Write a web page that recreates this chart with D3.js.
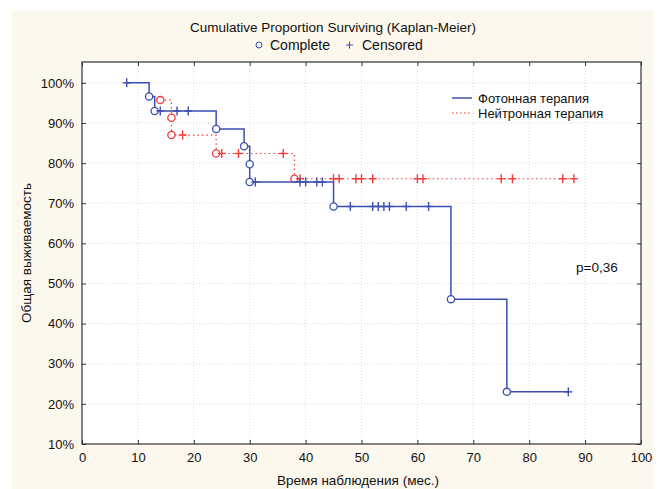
<!DOCTYPE html>
<html lang="ru">
<head>
	<meta charset="UTF-8">
	<title>Kaplan-Meier</title>
	<style>
		body { margin: 0; background: #fff; }
		text { font-family: "Liberation Sans", Arial, sans-serif; fill: #111; }
	</style>
</head>
<body>
	<svg id="container" width="659" height="489"></svg>
<script src="https://cdn.jsdelivr.net/npm/d3@7"></script>
<script>
	// photon therapy (blue, solid)
	let photonTime = [8, 12, 13, 14, 17, 19, 24, 29, 30, 30, 31, 39, 40, 42, 43, 45, 48, 52, 53, 54, 55, 58, 62, 66, 76, 87];
	let photonSurv = [100, 96.6, 93.0, 93.0, 93.0, 93.0, 88.5, 84.2, 79.7, 75.3, 75.3, 75.3, 75.3, 75.3, 75.3, 69.2, 69.2, 69.2, 69.2, 69.2, 69.2, 69.2, 69.2, 46.1, 23.0, 23.0];
	let photonCens = [1, 0, 0, 1, 1, 1, 0, 0, 0, 0, 1, 1, 1, 1, 1, 0, 1, 1, 1, 1, 1, 1, 1, 0, 0, 1];

	// neutron therapy (red, dotted)
	let neutronTime = [14, 16, 16, 18, 24, 25, 28, 36, 38, 39, 45, 46, 49, 50, 52, 60, 61, 75, 77, 86, 88];
	let neutronSurv = [95.7, 91.3, 87.0, 87.0, 82.4, 82.4, 82.4, 82.4, 76.1, 76.1, 76.1, 76.1, 76.1, 76.1, 76.1, 76.1, 76.1, 76.1, 76.1, 76.1, 76.1];
	let neutronCens = [0, 0, 0, 1, 0, 1, 1, 1, 0, 1, 1, 1, 1, 1, 1, 1, 1, 1, 1, 1, 1];

	let xTicks = [0, 10, 20, 30, 40, 50, 60, 70, 80, 90, 100];
	let yTicks = [10, 20, 30, 40, 50, 60, 70, 80, 90, 100];
	let seriesNames = ["Фотонная терапия", "Нейтронная терапия"];

	let svg = d3.select("#container");
	let pLeft = 82, pRight = 641, pTop = 62, pBottom = 444;

	let x = d3.scaleLinear().domain([0, 100]).range([pLeft, pRight]);
	let y = d3.scaleLinear().domain([10, 105.2]).range([pBottom, pTop]);

	// background panel
	svg.append("rect").attr("x", 12).attr("y", 10).attr("width", 641).attr("height", 479).attr("fill", "#fdf8ed");
	svg.append("rect").attr("x", pLeft).attr("y", pTop).attr("width", pRight - pLeft).attr("height", pBottom - pTop).attr("fill", "#fff");

	// grid
	let grid = svg.append("g").attr("stroke", "#dcdcdc").attr("stroke-dasharray", "1,2");
	grid.selectAll(".gx").data(xTicks.slice(1, -1)).enter().append("line")
		.attr("x1", d => x(d)).attr("x2", d => x(d)).attr("y1", pTop).attr("y2", pBottom);
	grid.selectAll(".gy").data(yTicks.slice(1)).enter().append("line")
		.attr("x1", pLeft).attr("x2", pRight).attr("y1", d => y(d)).attr("y2", d => y(d));

	// axes
	let fmt = d => d + "%";
	svg.append("g").attr("transform", `translate(0,${pBottom})`)
		.call(d3.axisBottom(x).tickValues(xTicks).tickSize(-4).tickPadding(9))
		.call(g => g.select(".domain").remove())
		.selectAll("text").style("font-size", "13px");
	svg.append("g").attr("transform", `translate(0,${pTop})`)
		.call(d3.axisTop(x).tickValues(xTicks).tickSize(-4).tickFormat(""))
		.call(g => g.select(".domain").remove());
	svg.append("g").attr("transform", `translate(${pLeft},0)`)
		.call(d3.axisLeft(y).tickValues(yTicks).tickSize(-4).tickPadding(8).tickFormat(fmt))
		.call(g => g.select(".domain").remove())
		.selectAll("text").style("font-size", "13px");
	svg.append("g").attr("transform", `translate(${pRight},0)`)
		.call(d3.axisRight(y).tickValues(yTicks).tickSize(-4).tickFormat(""))
		.call(g => g.select(".domain").remove());
	svg.selectAll(".tick line").attr("stroke", "#333");
	svg.append("rect").attr("x", pLeft).attr("y", pTop).attr("width", pRight - pLeft).attr("height", pBottom - pTop)
		.attr("fill", "none").attr("stroke", "#333").attr("stroke-width", 1.2);

	// clip the "100" label at panel edge like the original
	svg.append("rect").attr("x", 653).attr("y", 0).attr("width", 6).attr("height", 489).attr("fill", "#fff");

	function drawSeries(times, surv, cens, color, dash) {
		let pts = times.map((t, i) => ({t: t, s: surv[i], c: cens[i]}));
		let line = d3.line().x(d => x(d.t)).y(d => y(d.s)).curve(d3.curveStepAfter);
		svg.append("path").datum(pts)
			.attr("d", line).attr("fill", "none").attr("stroke", color)
			.attr("stroke-width", dash ? 1.2 : 1.5).attr("stroke-dasharray", dash);
		svg.selectAll(null).data(pts.filter(d => !d.c)).enter().append("circle")
			.attr("cx", d => x(d.t)).attr("cy", d => y(d.s)).attr("r", 3.6)
			.attr("fill", "#fff").attr("stroke", color).attr("stroke-width", 1.3);
		let plus = svg.selectAll(null).data(pts.filter(d => d.c)).enter().append("g")
			.attr("transform", d => `translate(${x(d.t)},${y(d.s)})`)
			.attr("stroke", color).attr("stroke-width", 1.4);
		plus.append("line").attr("x1", -4).attr("x2", 4);
		plus.append("line").attr("y1", -4.5).attr("y2", 4.5);
	}
	drawSeries(neutronTime, neutronSurv, neutronCens, "#f23a3a", "1.5,3");
	drawSeries(photonTime, photonSurv, photonCens, "#3c4fb0", null);

	// titles
	svg.append("text").attr("x", 333).attr("y", 32).attr("text-anchor", "middle").style("font-size", "13.5px")
		.text("Cumulative Proportion Surviving (Kaplan-Meier)");
	svg.append("circle").attr("cx", 259).attr("cy", 45).attr("r", 3).attr("fill", "none").attr("stroke", "#3c4fb0");
	svg.append("text").attr("x", 270).attr("y", 50).style("font-size", "14px").text("Complete");
	svg.append("line").attr("x1", 346).attr("x2", 353).attr("y1", 45).attr("y2", 45).attr("stroke", "#3c4fb0");
	svg.append("line").attr("x1", 349.5).attr("x2", 349.5).attr("y1", 41.5).attr("y2", 48.5).attr("stroke", "#3c4fb0");
	svg.append("text").attr("x", 362).attr("y", 50).style("font-size", "14px").text("Censored");

	svg.append("text").attr("x", 358).attr("y", 485).attr("text-anchor", "middle").style("font-size", "13.5px")
		.text("Время наблюдения (мес.)");
	svg.append("text").attr("transform", "translate(31,253) rotate(-90)").attr("text-anchor", "middle").style("font-size", "13.5px")
		.text("Общая выживаемость");

	// legend
	let leg = svg.append("g");
	leg.append("line").attr("x1", 452).attr("x2", 472).attr("y1", 98).attr("y2", 98).attr("stroke", "#3c4fb0").attr("stroke-width", 1.5);
	leg.append("line").attr("x1", 452).attr("x2", 472).attr("y1", 113).attr("y2", 113).attr("stroke", "#f23a3a").attr("stroke-dasharray", "1.5,2.5");
	leg.append("text").attr("x", 478).attr("y", 103).style("font-size", "13px").text(seriesNames[0]);
	leg.append("text").attr("x", 478).attr("y", 118).style("font-size", "13px").text(seriesNames[1]);

	svg.append("text").attr("x", 576).attr("y", 272).style("font-size", "13.5px").text("p=0,36");
</script>
</body>
</html>
